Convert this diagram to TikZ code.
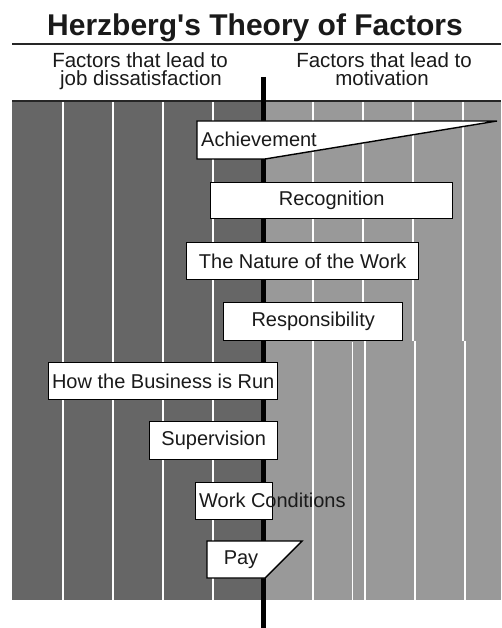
\documentclass[tikz,border=0pt]{standalone}
\usepackage{fontspec}
\setmainfont{Liberation Sans}
\definecolor{darkband}{HTML}{666666}
\definecolor{lightband}{HTML}{999999}
\definecolor{inktext}{HTML}{1A1A1A}
\begin{document}
\begin{tikzpicture}[x=1pt,y=-1pt,
  factor/.style={draw=black, line width=1.4pt, fill=white, inner sep=0pt,
    font=\fontsize{20}{24}\selectfont, text=inktext},
  factorline/.style={draw=black, line width=1.4pt, fill=white, line join=miter},
  factortext/.style={inner sep=0pt, font=\fontsize{20}{24}\selectfont, text=inktext},
  header/.style={inner sep=0pt, anchor=base, font=\fontsize{20.5}{22}\selectfont, text=inktext},
  gridline/.style={draw=white, line width=2.4pt},
  thingrid/.style={draw=white, line width=1pt}]
\useasboundingbox (0,0) rectangle (501,628);
\fill[white] (0,0) rectangle (501,628);

% title and rule under it
\node[inner sep=0pt, anchor=base, font=\bfseries\fontsize{30}{36}\selectfont, text=inktext]
  (title) at (255,36) {Herzberg\textquotesingle s Theory of Factors};
\coordinate (ruleL) at (12,44);
\coordinate (ruleR) at (501,44);
\draw[line width=1.6pt, black!85] (ruleL) -- (ruleR);

% column headings
\node[header] (hdl1) at (140,67.5) {Factors that lead to};
\node[header] (hdl2) at (141,86) {job dissatisfaction};
\node[header] (hdr1) at (384,67.5) {Factors that lead to};
\node[header] (hdr2) at (382,86) {motivation};

% shaded band: hygiene side (dark) and motivator side (light)
\fill[darkband] (12,101) rectangle (263,600);
\fill[lightband] (263,101) rectangle (501,600);
\draw[line width=1.2pt, black!85] (12,101) -- (501,101);

% vertical scale lines
\foreach \gx in {63,113,163,213}
  \draw[gridline] (\gx,102) -- (\gx,600);
\foreach \gx in {313,363,413,463}
  \draw[gridline] (\gx,102) -- (\gx,341);
\foreach \gx in {313,365,415,465}
  \draw[gridline] (\gx,341) -- (\gx,600);
\draw[thingrid] (352,342) -- (352,600);

% central divider
\coordinate (axtop) at (263.5,77);
\coordinate (axbot) at (263.5,628);
\draw[line width=5pt, black] (axtop) -- (axbot);

% factors
\draw[factorline] (197,121) -- (497,121) -- (265,159) -- (197,159) -- cycle;
\node[factortext, anchor=west] (achv) at (201,139.5) {Achievement};

\node[factor, minimum width=242, minimum height=36, anchor=north west]
  (recog) at (210,182) {Recognition};
\node[factor, minimum width=232, minimum height=37, anchor=north west]
  (nature) at (186,242) {The Nature of the Work};
\node[factor, minimum width=179, minimum height=38, anchor=north west]
  (resp) at (223,302) {Responsibility};
\node[factor, minimum width=229, minimum height=37, anchor=north west]
  (business) at (48,362) {How the Business is Run};
\node[factor, minimum width=128, minimum height=38, anchor=north west]
  (superv) at (149,421) {Supervision};

\node[factor, minimum width=77, minimum height=37, anchor=north west]
  (workbox) at (195,482) {};
\node[factortext, anchor=west] (work) at (199,500.5) {Work Conditions};

\draw[factorline] (207,541) -- (302,541) -- (265,578) -- (207,578) -- cycle;
\node[factortext] (pay) at (241,559.5) {Pay};
\end{tikzpicture}
\end{document}
